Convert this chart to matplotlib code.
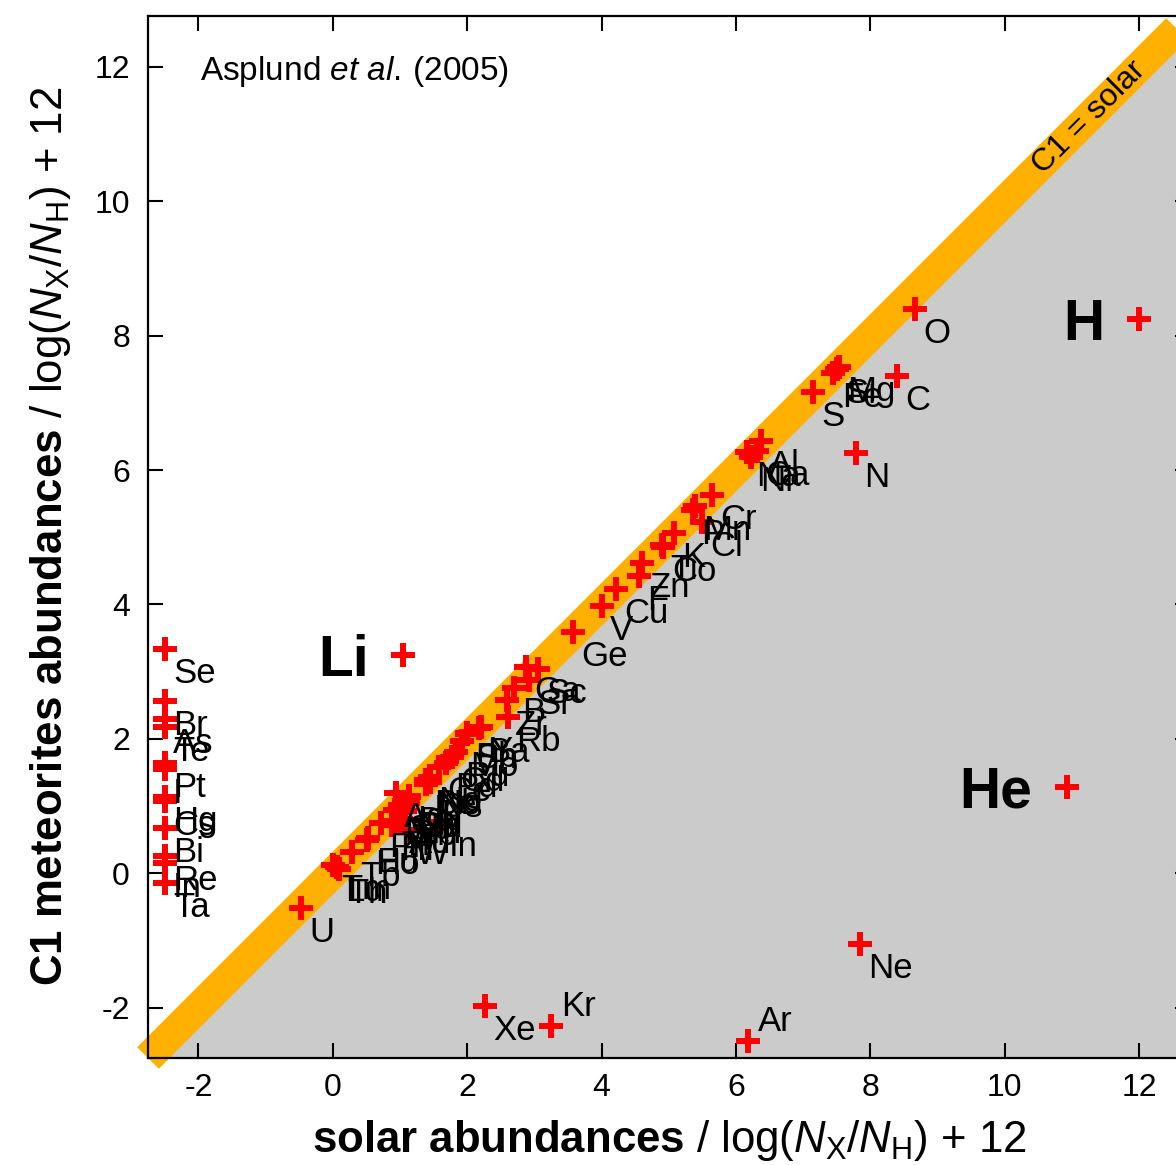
import matplotlib
matplotlib.use("Agg")
import matplotlib.pyplot as plt

plt.rcParams['font.family'] = ['Liberation Sans', 'DejaVu Sans']
plt.rcParams['mathtext.fontset'] = 'custom'
plt.rcParams['mathtext.rm'] = 'Liberation Sans'
plt.rcParams['mathtext.it'] = 'Liberation Sans:italic'
plt.rcParams['mathtext.bf'] = 'Liberation Sans:bold'
plt.rcParams['axes.unicode_minus'] = False

# Asplund et al. (2005): solar photosphere vs C1 meteorites
elements = ['H', 'He', 'Li', 'Be', 'B', 'C', 'N', 'O', 'F', 'Ne',
            'Na', 'Mg', 'Al', 'Si', 'P', 'S', 'Cl', 'Ar', 'K', 'Ca',
            'Sc', 'Ti', 'V', 'Cr', 'Mn', 'Fe', 'Co', 'Ni', 'Cu', 'Zn',
            'Ga', 'Ge', 'Kr', 'Rb', 'Sr', 'Y', 'Zr', 'Nb', 'Mo', 'Ru',
            'Rh', 'Pd', 'Ag', 'Cd', 'In', 'Sn', 'Sb', 'Xe', 'Ba', 'La',
            'Ce', 'Pr', 'Nd', 'Sm', 'Eu', 'Gd', 'Tb', 'Dy', 'Ho', 'Er',
            'Tm', 'Yb', 'Lu', 'Hf', 'W', 'Os', 'Ir', 'Au', 'Tl', 'Pb',
            'Th', 'U']
solar = [12.00, 10.93, 1.05, 1.38, 2.70, 8.39, 7.78, 8.66, 4.56, 7.84,
         6.17, 7.53, 6.37, 7.51, 5.36, 7.14, 5.50, 6.18, 5.08, 6.31,
         3.05, 4.90, 4.00, 5.64, 5.39, 7.45, 4.92, 6.23, 4.21, 4.60,
         2.88, 3.58, 3.25, 2.60, 2.92, 2.21, 2.59, 1.42, 1.92, 1.84,
         1.12, 1.69, 0.94, 1.77, 1.60, 2.00, 1.00, 2.27, 2.17, 1.13,
         1.58, 0.71, 1.45, 1.01, 0.52, 1.12, 0.28, 1.14, 0.51, 0.93,
         0.00, 1.08, 0.06, 0.88, 1.11, 1.45, 1.38, 1.01, 0.90, 2.00,
         0.09, -0.47]
meteor = [8.25, 1.29, 3.25, 1.38, 2.75, 7.40, 6.25, 8.39, 4.42, -1.06,
          6.27, 7.53, 6.43, 7.51, 5.40, 7.16, 5.23, -2.50, 5.06, 6.29,
          3.04, 4.89, 3.97, 5.63, 5.47, 7.45, 4.86, 6.19, 4.23, 4.61,
          3.07, 3.59, -2.27, 2.33, 2.88, 2.17, 2.57, 1.39, 1.96, 1.81,
          1.06, 1.64, 1.20, 1.73, 0.76, 2.07, 1.01, -1.97, 2.16, 1.15,
          1.58, 0.75, 1.43, 0.95, 0.52, 1.05, 0.32, 1.13, 0.49, 0.94,
          0.12, 0.92, 0.09, 0.71, 0.65, 1.35, 1.32, 0.80, 0.78, 2.08,
          0.06, -0.52]

# elements with no solar value, drawn in a column at the left
nosolar_elements = ['Se', 'Br', 'As', 'Te', 'Pt', 'I', 'Hg', 'Cs', 'Bi', 'Re', 'In', 'Ta']
nosolar_meteor = [3.33, 2.56, 2.29, 2.18, 1.64, 1.55, 1.13, 1.08, 0.67, 0.26, 0.15, -0.14]
NOSOLAR_X = -2.5

big_labels = ['H', 'He', 'Li']
labels_above = ['Ar', 'Kr']

lo, hi = -2.75, 12.75
orange = '#ffb000'
grey = '#cbcbcb'

fig = plt.figure(figsize=(11.76, 11.65), dpi=100)
ax = fig.add_axes([148 / 1176, 107 / 1165, 1041.6 / 1176, 1041.6 / 1165])

# grey area below the diagonal, orange band on it
ax.fill_between([lo, hi], [lo, lo], [lo, hi], color=grey, lw=0, zorder=0.5)
ax.plot([lo, hi], [lo, hi], color=orange, lw=22, solid_capstyle='butt',
        clip_on=False, zorder=1)

xs = solar + [NOSOLAR_X] * len(nosolar_elements)
ys = meteor + nosolar_meteor
names = elements + nosolar_elements
ax.plot(xs, ys, ls='none', marker='+', ms=17, mew=4.3, color='red', zorder=2)

for name, x, y in zip(names, xs, ys):
    if name in big_labels:
        ax.annotate(name, (x, y), xytext=(-25, -15), textcoords='offset points',
                    ha='right', va='baseline', fontsize=41, fontweight='bold')
    elif name in labels_above:
        ax.annotate(name, (x, y), xytext=(7, 7), textcoords='offset points',
                    ha='left', va='baseline', fontsize=25)
    else:
        ax.annotate(name, (x, y), xytext=(6, -24.5), textcoords='offset points',
                    ha='left', va='baseline', fontsize=25)

ax.text(11.25, 11.25, 'C1 = solar', rotation=45, rotation_mode='anchor',
        ha='center', va='center', fontsize=23, zorder=3)
ax.text(0.05, 0.9386, r'$\mathrm{Asplund}\ \mathit{et\ al.}\,\mathrm{(2005)}$',
        transform=ax.transAxes, ha='left', va='baseline', fontsize=24)

ax.set_xlim(lo, hi)
ax.set_ylim(lo, hi)
ax.set_xticks(range(-2, 13, 2))
ax.set_yticks(range(-2, 13, 2))
ax.tick_params(direction='in', length=11, width=1.5, top=True, right=True,
               labelsize=23)
ax.tick_params(axis='x', pad=11)
ax.tick_params(axis='y', pad=13)
for s in ax.spines.values():
    s.set_linewidth(1.6)

fig.text(669 / 1176, 13 / 1165,
         r'$\mathbf{solar\ abundances}$ / log($N_\mathrm{X}$/$N_\mathrm{H}$) + 12',
         ha='center', va='baseline', fontsize=31.5)
fig.text(62 / 1176, 1 - 536 / 1165,
         r'$\mathbf{C1\ meteorites\ abundances}$ / log($N_\mathrm{X}$/$N_\mathrm{H}$) + 12',
         rotation=90, rotation_mode='anchor', ha='center', va='baseline', fontsize=31.5)

fig.savefig('out.png', dpi=100)
